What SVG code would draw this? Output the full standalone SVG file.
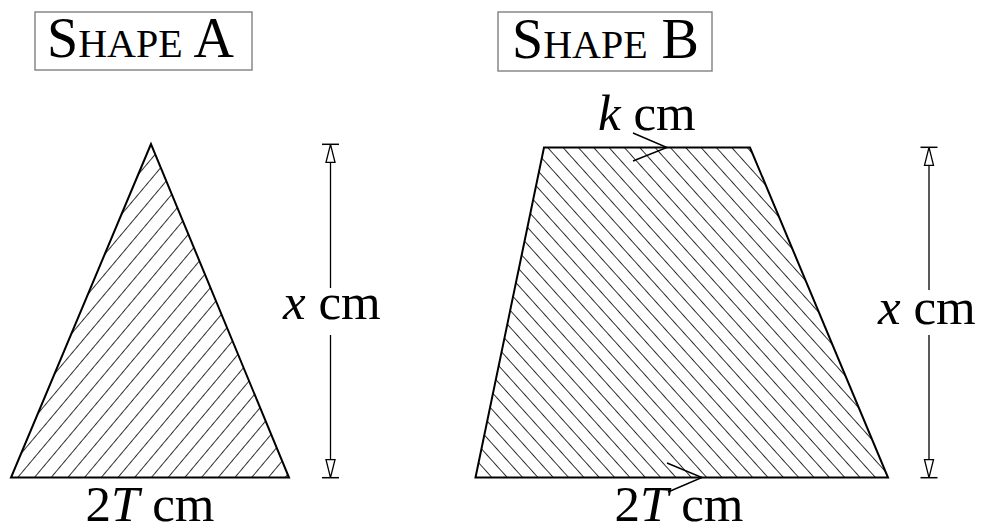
<svg xmlns="http://www.w3.org/2000/svg" width="988" height="532" viewBox="0 0 988 532">
<style>
  text { font-family: "Liberation Serif", "Times New Roman", serif; fill: #000; }
  .title-box { fill: #fff; stroke: #888; stroke-width: 1.5; }
  .big { font-size: 56px; }
  .sc { font-size: 40px; }
  .lbl { font-size: 51px; }
  .it { font-style: italic; }
  .outline { stroke: #000; stroke-width: 2; stroke-linejoin: miter; }
  .dim { stroke: #000; stroke-width: 1.3; fill: none; }
  .leader { stroke: #000; stroke-width: 1.4; fill: none; }
</style>
<defs>
  <pattern id="hatchA" patternUnits="userSpaceOnUse" width="12.8" height="20" patternTransform="rotate(40)">
    <line x1="0" y1="0" x2="0" y2="20" stroke="#000" stroke-width="1.6"/>
  </pattern>
  <pattern id="hatchB" patternUnits="userSpaceOnUse" width="11.4" height="20" patternTransform="rotate(-42)">
    <line x1="0" y1="0" x2="0" y2="20" stroke="#000" stroke-width="1.6"/>
  </pattern>
  <g id="dimEnd">
    <line x1="-8.5" y1="0" x2="8.5" y2="0" stroke="#000" stroke-width="1.5"/>
    <polygon points="0,0 -4.5,18 4.5,18" fill="#fff" stroke="#000" stroke-width="1.3"/>
  </g>
</defs>

<g id="titleA">
  <rect class="title-box" x="35" y="12" width="217" height="58"/>
  <text x="47" y="57"><tspan class="big">S</tspan><tspan class="sc">HAPE</tspan><tspan class="big"> A</tspan></text>
</g>
<g id="titleB">
  <rect class="title-box" x="498" y="12" width="214" height="59"/>
  <text x="512" y="58"><tspan class="big">S</tspan><tspan class="sc">HAPE</tspan><tspan class="big"> B</tspan></text>
</g>

<g id="shapeA">
  <polygon class="outline" points="151,144 11,477.5 289,477.5" fill="url(#hatchA)"/>
</g>
<g id="shapeB">
  <polygon class="outline" points="544,147.5 750,147.5 888,477.5 475.5,477.5" fill="url(#hatchB)"/>
</g>

<g id="connectors">
  <g id="dimA">
    <use href="#dimEnd" transform="translate(330.5,144.3)"/>
    <use href="#dimEnd" transform="translate(330.5,477.7) scale(1,-1)"/>
    <line class="dim" x1="330.5" y1="162" x2="330.5" y2="288"/>
    <line class="dim" x1="330.5" y1="335" x2="330.5" y2="460"/>
  </g>
  <g id="dimB">
    <use href="#dimEnd" transform="translate(929,147.3)"/>
    <use href="#dimEnd" transform="translate(929,477.7) scale(1,-1)"/>
    <line class="dim" x1="929" y1="165" x2="929" y2="290"/>
    <line class="dim" x1="929" y1="335" x2="929" y2="460"/>
  </g>
  <polyline class="leader" points="633,133 667,147.5 633,161"/>
  <polyline class="leader" points="667,463 702,477.5 668,492"/>
</g>

<g id="labels">
  <text class="lbl" x="283" y="319"><tspan class="it">x</tspan> cm</text>
  <text class="lbl" x="878" y="324"><tspan class="it">x</tspan> cm</text>
  <text class="lbl" x="598" y="130"><tspan class="it">k</tspan> cm</text>
  <text class="lbl" x="150" y="521" text-anchor="middle">2<tspan class="it">T</tspan> cm</text>
  <text class="lbl" x="679" y="521" text-anchor="middle">2<tspan class="it">T</tspan> cm</text>
</g>
</svg>
